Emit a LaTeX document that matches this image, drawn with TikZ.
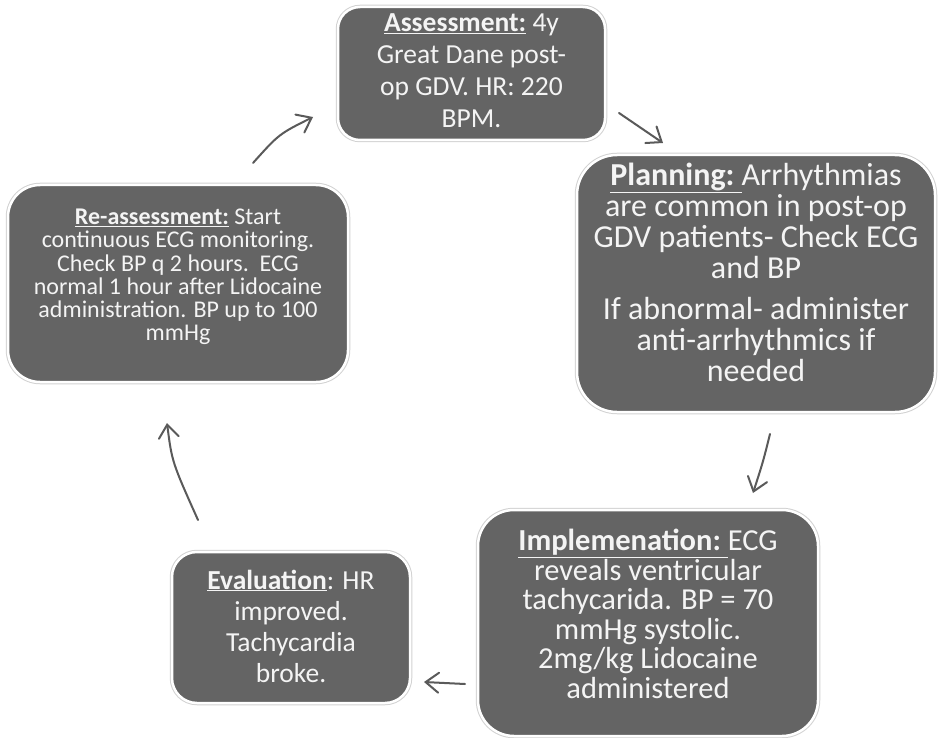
\documentclass[tikz,border=0pt]{standalone}
\usepackage{fontspec}
\setmainfont{Carlito}
\usetikzlibrary{arrows.meta}
\definecolor{boxgray}{HTML}{646464}
\definecolor{txtcol}{HTML}{F4F4F4}
\definecolor{arrcol}{HTML}{5A5A5A}
\definecolor{edgecol}{HTML}{D2D2D2}
\newcommand{\hdr}[1]{\underline{\textbf{#1}}}
\begin{document}
\begin{tikzpicture}[x=1pt,y=-1pt,
  box/.style={fill=boxgray, draw=white, line width=2.5pt,
    preaction={draw=edgecol, line width=4.5pt}, inner sep=0pt},
  boxtext/.style={text=txtcol, align=center, inner sep=0pt},
  arrowline/.style={draw=arrcol, line width=2pt, line cap=round,
    -{Straight Barb[length=13pt,width=20pt,line cap=round]}}]
\useasboundingbox[fill=white] (0,0) rectangle (939,738);

% boxes
\node[box, rounded corners=22pt, minimum width=267pt, minimum height=133pt] (assessbox) at (471.5,73.5) {};
\node[box, rounded corners=40pt, minimum width=358pt, minimum height=257pt] (planbox) at (756,283.5) {};
\node[box, rounded corners=32pt, minimum width=340pt, minimum height=197pt] (reassessbox) at (178,283.5) {};
\node[box, rounded corners=25pt, minimum width=238pt, minimum height=151pt] (evalbox) at (291,627.5) {};
\node[box, rounded corners=36pt, minimum width=340pt, minimum height=226pt] (implbox) at (648,623) {};

% texts
\node[boxtext, font=\fontsize{27.5}{32}\selectfont] (assess) at (471.5,71)
  {\hdr{Assessment:} 4y\\Great Dane post-\\op GDV. HR: 220\\BPM.};

\node[boxtext, font=\fontsize{32}{31}\selectfont] (plan) at (756,272)
  {\hdr{Planning:\ }Arrhythmias\\are common in post-op\\GDV patients- Check ECG\\and BP\\[10pt]If abnormal- administer\\anti-arrhythmics if\\needed};

\node[boxtext, font=\fontsize{24}{23.3}\selectfont] (reassess) at (178,277)
  {\hdr{Re-assessment:} Start\\continuous ECG monitoring.\\Check BP q 2 hours.\ \ ECG\\normal 1 hour after Lidocaine\\administration. BP up to 100\\mmHg};

\node[boxtext, font=\fontsize{27.5}{31}\selectfont] (eval) at (291,626)
  {\hdr{Evaluation}: HR\\improved.\\Tachycardia\\broke.};

\node[boxtext, font=\fontsize{30.5}{29.5}\selectfont] (impl) at (648,614)
  {\hdr{Implemenation:\ }ECG\\reveals ventricular\\tachycarida. BP = 70\\mmHg systolic.\\2mg/kg Lidocaine\\administered};

% arrow end points
\coordinate (a1s) at (253,163);
\coordinate (a1c) at (279,134);
\coordinate (a1e) at (313,117);
\coordinate (a2s) at (619,113);
\coordinate (a2e) at (663,143);
\coordinate (a3s) at (770,434);
\coordinate (a3c) at (763,462);
\coordinate (a3e) at (753,493);
\coordinate (a4s) at (465,684);
\coordinate (a4e) at (424,682);
\coordinate (a5s) at (198,520);
\coordinate (a5c) at (172,462);
\coordinate (a5e) at (167,423);

\draw[arrowline] (a1s) .. controls (a1c) .. (a1e);
\draw[arrowline] (a2s) -- (a2e);
\draw[arrowline] (a3s) .. controls (a3c) .. (a3e);
\draw[arrowline] (a4s) -- (a4e);
\draw[arrowline] (a5s) .. controls (a5c) .. (a5e);
\end{tikzpicture}
\end{document}
